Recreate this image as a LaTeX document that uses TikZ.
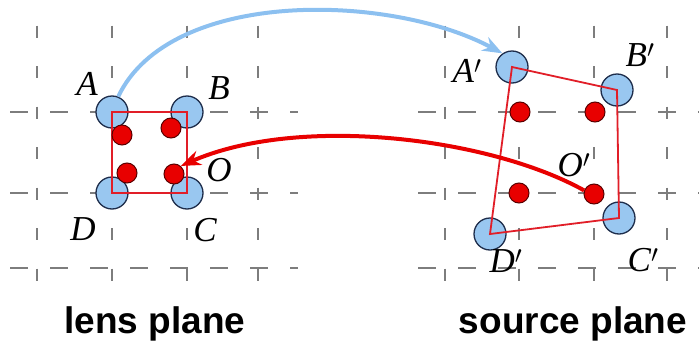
\documentclass[tikz,border=0pt]{standalone}
\usepackage{fontspec}
\setmainfont{Liberation Serif}
\newfontfamily\planefont{Liberation Sans}
\usetikzlibrary{arrows.meta,positioning}

\definecolor{gridgray}{RGB}{125,125,125}
\definecolor{ptfill}{RGB}{153,199,240}
\definecolor{ptline}{RGB}{30,45,75}
\definecolor{dotred}{RGB}{232,0,0}
\definecolor{dotline}{RGB}{90,0,0}
\definecolor{quadred}{RGB}{225,30,40}
\definecolor{maparrow}{RGB}{140,192,240}

\tikzset{
  vline/.style={gridgray, line width=2pt, dash pattern=on 12pt off 28.5pt},
  hline/.style={gridgray, line width=2pt, dash pattern=on 18pt off 22pt},
  corner/.style={circle, draw=ptline, line width=1.3pt, fill=ptfill, minimum size=32pt, inner sep=0pt},
  ray/.style={circle, draw=dotline, line width=1pt, fill=dotred, minimum size=20pt, inner sep=0pt},
  quad/.style={quadred, line width=1.8pt},
  ptlabel/.style={font=\fontsize{35}{40}\selectfont\itshape, inner sep=0pt},
  planelabel/.style={font=\planefont\bfseries\fontsize{37}{42}\selectfont, anchor=base}
}

\begin{document}
\begin{tikzpicture}[x=1pt, y=-1pt, >=Stealth]
  \useasboundingbox (0,0) rectangle (699,351);

  % Grids
  \foreach \x in {37,112,187,258,445,519,594,667}
    \draw[vline] (\x,-15) -- (\x,292);
  \foreach \y in {112,193,268} {
    \draw[hline] (10,\y) -- (298,\y);
    \draw[hline] (418,\y) -- (699,\y);
  }

  % Lens plane
  \node[corner] (A) at (112,112) {};
  \node[corner] (B) at (187,112) {};
  \node[corner] (C) at (187,193) {};
  \node[corner] (D) at (112,193) {};
  \draw[quad] (A.center) -- (B.center) -- (C.center) -- (D.center) -- cycle;
  \node[ray] (la) at (122,135) {};
  \node[ray] (lb) at (171,128) {};
  \node[ray] (ld) at (127,173) {};
  \node[ray] (lo) at (174,174) {};

  % Source plane
  \node[corner] (Ap) at (512,67) {};
  \node[corner] (Bp) at (617,90) {};
  \node[corner] (Cp) at (619,218) {};
  \node[corner] (Dp) at (490,234) {};
  \draw[quad] (Ap.center) -- (Bp.center) -- (Cp.center) -- (Dp.center) -- cycle;
  \node[ray] (sa) at (520,112) {};
  \node[ray] (sb) at (595,112) {};
  \node[ray] (sd) at (519,193) {};
  \node[ray] (so) at (594,194) {};

  % Mapping arrows
  \draw[->, maparrow, line width=4pt, arrows={-Stealth[length=20pt,width=15pt]}]
    (A.68) .. controls (170,-12) and (390,-7) .. (Ap.125);
  \draw[->, dotred, line width=4pt, arrows={-Stealth[length=20pt,width=15pt]}]
    (so.160) .. controls (490,138) and (300,114) .. (lo.50);

  % Labels
  \node[ptlabel] (labA) at (87,84) {A};
  \node[ptlabel] (labB) at (219,88) {B};
  \node[ptlabel] (labC) at (205,230) {C};
  \node[ptlabel] (labD) at (83,229) {D};
  \node[ptlabel] (labO) at (219,170) {O};
  \node[ptlabel] (labAp) at (467,71) {A$'$};
  \node[ptlabel] (labBp) at (640,55) {B$'$};
  \node[ptlabel] (labCp) at (643,260) {C$'$};
  \node[ptlabel] (labDp) at (506,261) {D$'$};
  \node[ptlabel] (labOp) at (574,165) {O$'$};

  \node[planelabel] (lens) at (155,333) {lens plane};
  \node[planelabel] (source) at (573,333) {source plane};
\end{tikzpicture}
\end{document}
